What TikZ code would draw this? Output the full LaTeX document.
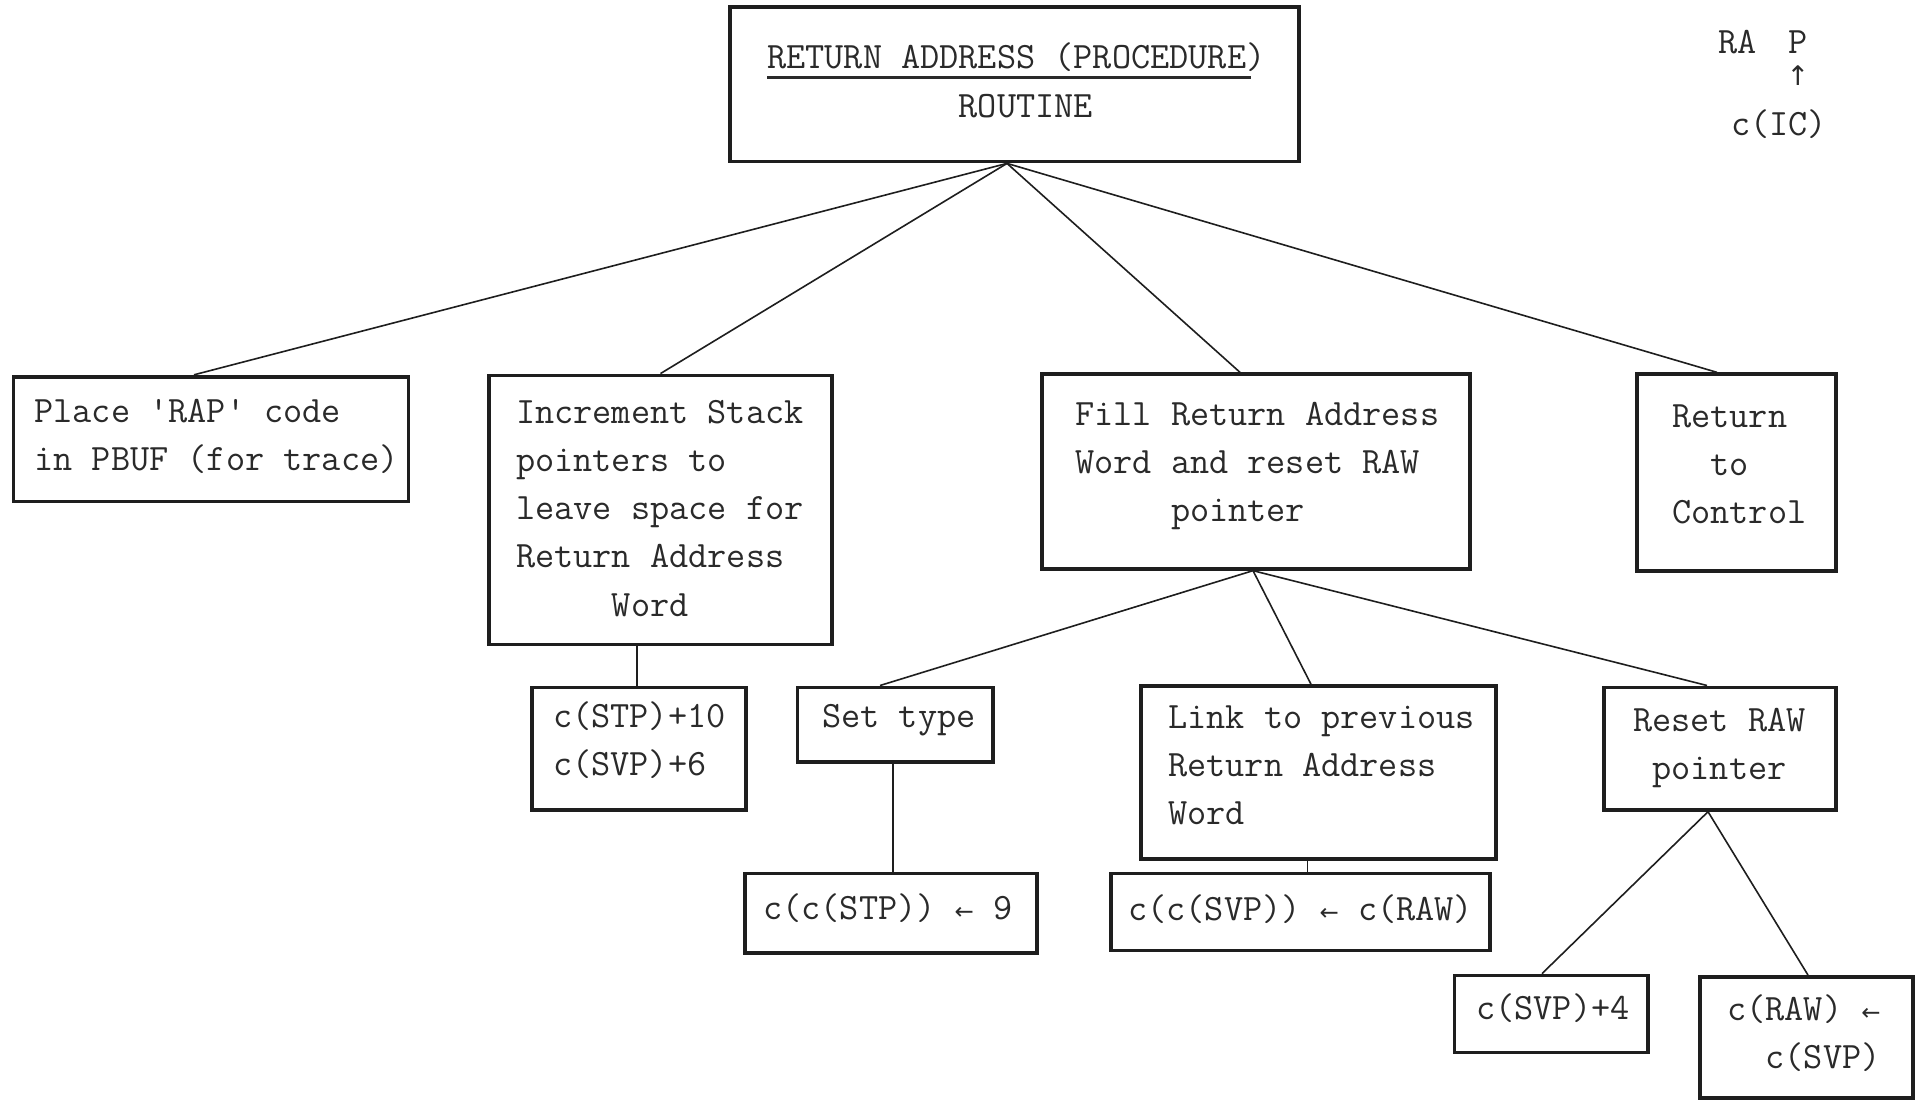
\documentclass[tikz,border=0pt]{standalone}
\usepackage{fontspec}
\newfontfamily\arrowfont{DejaVu Sans}
\usetikzlibrary{calc}

% indent by a number of typewriter character cells
\newcommand\ind[1]{\hspace*{#1\fontcharwd\font`\M}}
% small assignment arrow occupying one character cell
\newcommand\larr{\makebox[\fontcharwd\font`\M]{\arrowfont\fontsize{23}{23}\selectfont ←}}
\newcommand\uarr{{\arrowfont\fontsize{27}{27}\selectfont ↑}}

\definecolor{inkc}{HTML}{1E1E1E}
\definecolor{textc}{HTML}{2A2A2A}

\tikzset{
  box/.style={draw=inkc, line width=3.8pt, rectangle, inner sep=0pt},
  link/.style={draw=inkc, line width=1.6pt},
  txt/.style={anchor=west, inner sep=0pt, align=left, text=textc,
    font=\ttfamily\fontsize{37.2}{48.3}\selectfont},
}

\begin{document}
\begin{tikzpicture}[x=1pt, y=-1pt]
\useasboundingbox (0,0) rectangle (1918,1101);
\fill[white] (0,0) rectangle (1918,1101);

% ---- boxes ----
\node[box, minimum width=568.7pt, minimum height=154.2pt] (title) at (1014.7,84.4) {};
\node[box, minimum width=395pt,   minimum height=124.8pt] (b1) at (211,439.1) {};
\node[box, minimum width=342.5pt, minimum height=269.1pt] (b2) at (660.5,510) {};
\node[box, minimum width=428.1pt, minimum height=194.5pt] (b3) at (1256.2,471.5) {};
\node[box, minimum width=199.4pt, minimum height=196.9pt] (b4) at (1736.3,472.7) {};
\node[box, minimum width=214pt,   minimum height=122.3pt] (s1) at (639,748.6) {};
\node[box, minimum width=195.7pt, minimum height=74.6pt]  (s2) at (895.3,724.7) {};
\node[box, minimum width=354.8pt, minimum height=172.5pt] (s3) at (1318.6,772.4) {};
\node[box, minimum width=232.4pt, minimum height=122.4pt] (s4) at (1719.8,748.6) {};
\node[box, minimum width=292.3pt, minimum height=79.5pt]  (t1) at (891.2,913.2) {};
\node[box, minimum width=379.3pt, minimum height=77pt]    (t2) at (1300.4,911.9) {};
\node[box, minimum width=193.2pt, minimum height=77pt]    (t3) at (1551,1014) {};
\node[box, minimum width=213pt,   minimum height=121pt]   (t4) at (1806.5,1037.5) {};

% ---- texts ----
\node[txt] (ttitle) at (767,83.2) {\strut\rlap{\rule[-9.8pt]{25.25\fontcharwd\font`\M}{2.6pt}}RETURN ADDRESS (PROCEDURE)\\
  \strut\ind{10}ROUTINE};
\node[txt] (tb1) at (34.3,436.7) {\strut Place \textquotesingle RAP\textquotesingle{} code\\ \strut in PBUF (for trace)};
\node[txt] (tb2) at (516,510) {\strut Increment Stack\\ \strut pointers to\\ \strut leave space for\\
  \strut Return Address\\ \strut\ind{5}Word};
\node[txt] (tb3) at (1075,464) {\strut Fill Return Address\\ \strut Word and reset RAW\\ \strut\ind{5}pointer};
\node[txt] (tb4) at (1672,466) {\strut Return\\ \strut\ind{2}to\\ \strut Control};
\node[txt] (ts1) at (553,742) {\strut c(STP)+10\\ \strut c(SVP)+6};
\node[txt] (ts2) at (822,718) {\strut Set type};
\node[txt] (ts3) at (1168,767) {\strut Link to previous\\ \strut Return Address\\ \strut Word};
\node[txt] (ts4) at (1633,745.5) {\strut Reset RAW\\ \strut\ind{1}pointer};
\node[txt] (tt1) at (763,910) {\strut c(c(STP)) \larr{} 9};
\node[txt] (tt2) at (1128,911) {\strut c(c(SVP)) \larr{} c(RAW)};
\node[txt] (tt3) at (1476,1010) {\strut c(SVP)+4};
\node[txt] (tt4) at (1727,1034.5) {\strut c(RAW) \larr\\ \strut\ind{2}c(SVP)};

% ---- note in the upper right corner ----
\node[txt] (ra)  at (1718.6,44) {\strut RA};
\node[txt] (pp)  at (1788,44) {\strut P};
\node[inner sep=0pt, text=textc] (up) at (1798,76) {\uarr};
\node[txt] (cic) at (1731,126) {\strut c(IC)};

% ---- connectors ----
\draw[link] ([xshift=-7.7pt]title.south) -- ([xshift=-17pt]b1.north);
\draw[link] ([xshift=-7.7pt]title.south) -- (b2.north);
\draw[link] ([xshift=-7.7pt]title.south) -- ([xshift=-16.2pt]b3.north);
\draw[link] ([xshift=-7.7pt]title.south) -- ([xshift=-19.3pt]b4.north);

\draw[link] ([xshift=-2pt]s1.north) -- ([xshift=-2pt]s1.north |- b2.south);

\draw[link] ([xshift=-3.2pt]b3.south) -- ([xshift=-15.3pt]s2.north);
\draw[link] ([xshift=-3.2pt]b3.south) -- ([xshift=-7.6pt]s3.north);
\draw[link] ([xshift=-3.2pt]b3.south) -- ([xshift=-12.8pt]s4.north);

\draw[link] ([xshift=1.8pt]t1.north) -- ([xshift=1.8pt]t1.north |- s2.south);
\draw[link] ([xshift=7.2pt]t2.north) -- ([xshift=7.2pt]t2.north |- s3.south);

\draw[link] ([xshift=-11.8pt]s4.south) -- ([xshift=-9pt]t3.north);
\draw[link] ([xshift=-11.8pt]s4.south) -- ([xshift=1.5pt]t4.north);
\end{tikzpicture}
\end{document}
